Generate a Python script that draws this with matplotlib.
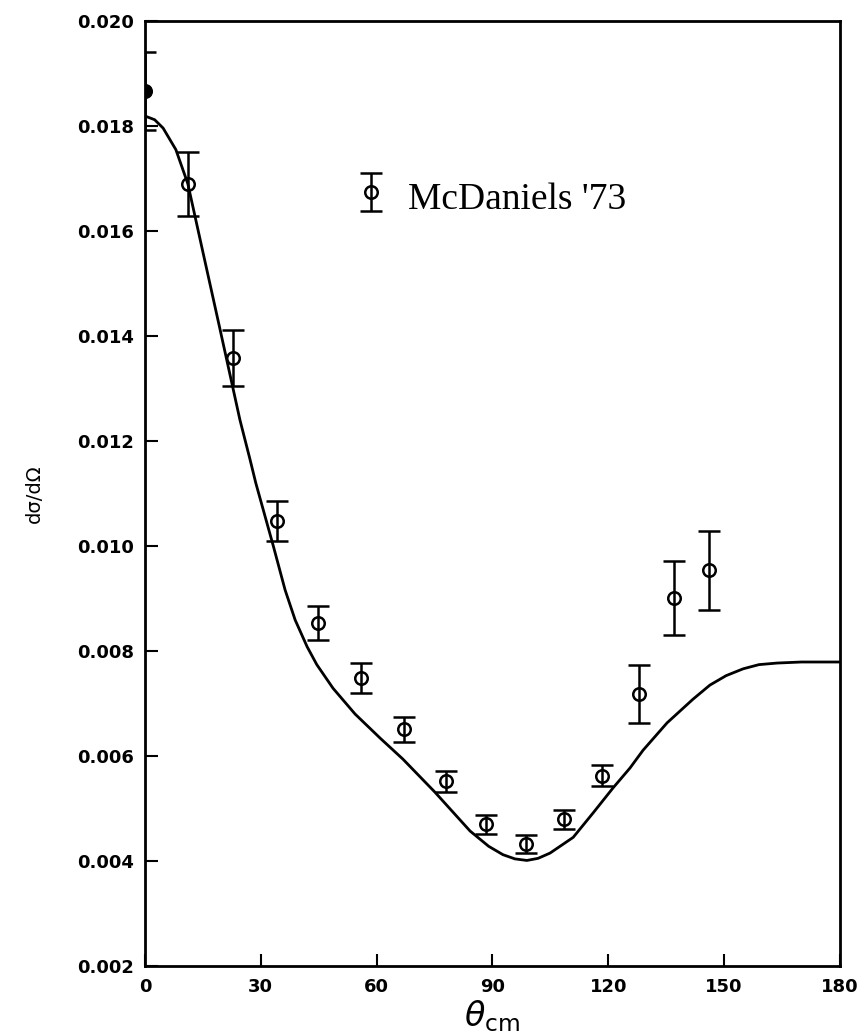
import matplotlib
matplotlib.use("Agg")
import matplotlib.pyplot as plt
import numpy as np

# McDaniels '73 data points (theta_cm in degrees, d sigma / d Omega)
theta_data = [0.0, 11.1, 22.8, 34.2, 44.8, 55.9, 67.1, 78.0, 88.3, 98.7,
              108.5, 118.4, 128.0, 137.0, 146.1]
xs_data = [0.01867, 0.01690, 0.01358, 0.01048, 0.00853, 0.00749, 0.00651,
           0.00552, 0.00470, 0.00432, 0.00479, 0.00562, 0.00718, 0.00901,
           0.00954]
xs_err = [0.00074, 0.00061, 0.00053, 0.00038, 0.00033, 0.00029, 0.00024,
          0.00020, 0.00018, 0.00017, 0.00018, 0.00020, 0.00056, 0.00071,
          0.00075]

# calculated curve
theta_curve = [0.0, 2.5, 4.7, 8.0, 11.1, 15.0, 19.4, 24.6, 27.2, 28.7, 33.2,
               36.3, 38.9, 42.0, 44.5, 48.7, 54.4, 60.9, 66.8, 75.1, 84.2,
               89.0, 92.7, 95.8, 98.9, 101.8, 104.9, 110.9, 116.0, 121.2,
               125.6, 129.0, 135.2, 141.9, 146.3, 150.5, 154.9, 159.0, 163.7,
               170.0, 180.0]
xs_curve = [0.01819, 0.01812, 0.01796, 0.01755, 0.01690, 0.01560, 0.01414,
            0.01240, 0.01165, 0.01120, 0.01001, 0.00916, 0.00859, 0.00808,
            0.00774, 0.00729, 0.00680, 0.00634, 0.00594, 0.00531, 0.00457,
            0.00428, 0.00412, 0.00404, 0.00401, 0.00405, 0.00415, 0.00445,
            0.00491, 0.00539, 0.00577, 0.00611, 0.00663, 0.00708, 0.00735,
            0.00753, 0.00766, 0.00774, 0.00777, 0.00779, 0.00779]

x_ticks = [0, 30, 60, 90, 120, 150, 180]
y_ticks = [0.002, 0.004, 0.006, 0.008, 0.010, 0.012, 0.014, 0.016, 0.018, 0.020]

fig = plt.figure(figsize=(8.66, 10.35), dpi=100)
ax = fig.add_axes([0.1674, 0.0667, 0.8026, 0.913])

ax.plot(theta_curve, xs_curve, color="black", lw=2.0, zorder=2)

eb = ax.errorbar(theta_data, xs_data, yerr=xs_err, fmt="o", color="black",
                 mfc="none", mec="black", mew=1.8, ms=9, ecolor="black",
                 elinewidth=1.8, capsize=8, capthick=1.8, zorder=3)
# first point appears solid in the original
ax.plot(theta_data[:1], xs_data[:1], "o", color="black", ms=9, zorder=4)

ax.set_xlim(0, 180)
ax.set_ylim(0.002, 0.020)
ax.set_xticks(x_ticks)
ax.set_yticks(y_ticks)
ax.set_xticklabels([str(t) for t in x_ticks], fontweight="bold", fontsize=13)
ax.set_yticklabels([f"{t:.3f}" for t in y_ticks], fontweight="bold", fontsize=13)
ax.tick_params(direction="in", length=9, width=1.5, pad=8)
ax.tick_params(axis="x", pad=9)
for s in ax.spines.values():
    s.set_linewidth(2.0)

ax.set_ylabel("dσ/dΩ", fontsize=14, labelpad=24)
ax.set_xlabel(r"$\theta_{\rm cm}$", fontsize=24, labelpad=1)

leg = ax.legend([eb], ["McDaniels '73"], loc="upper left",
                bbox_to_anchor=(0.26, 0.872), frameon=False,
                prop={"family": "Liberation Serif", "size": 27},
                handlelength=0.6, handleheight=1.3, handletextpad=0.7)

fig.savefig("out.png", dpi=100)
